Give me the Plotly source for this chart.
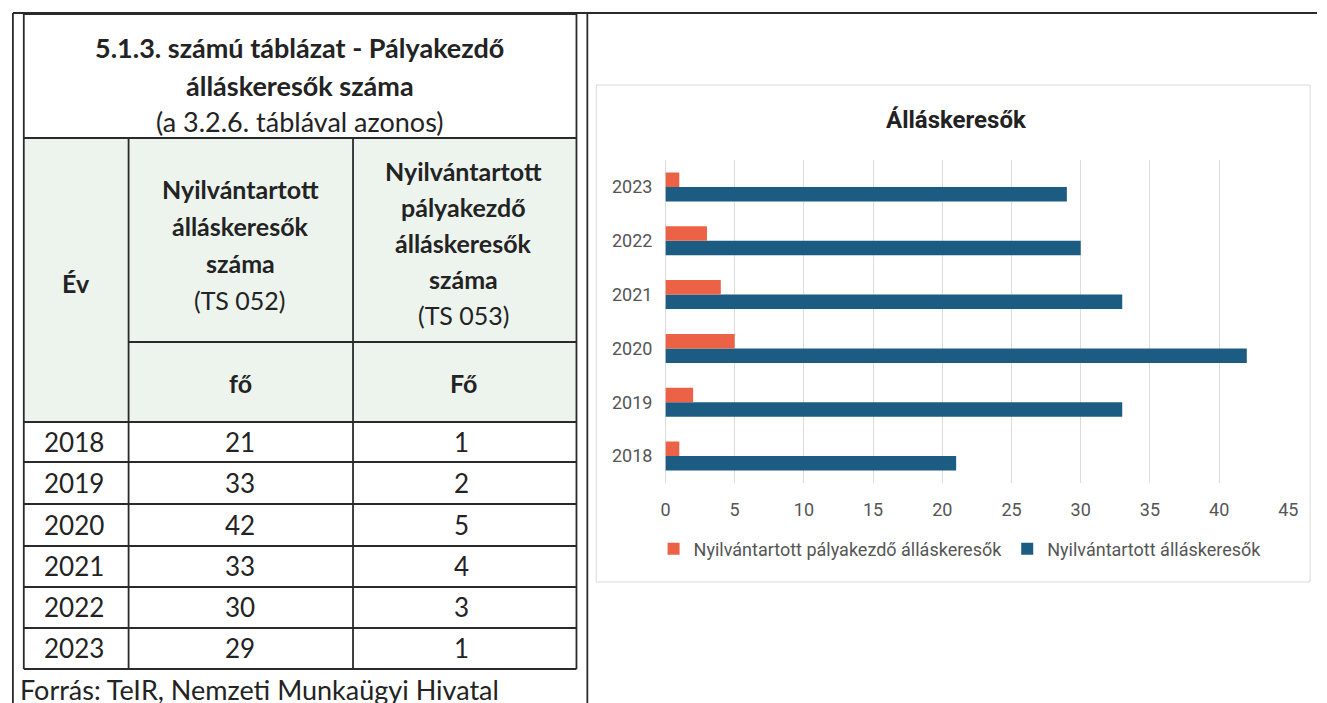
import plotly.graph_objects as go

# ---------------- data ----------------
years = ["2018", "2019", "2020", "2021", "2022", "2023"]
registered = [21, 33, 42, 33, 30, 29]          # Nyilvántartott álláskeresők (TS 052)
career_starters = [1, 2, 5, 4, 3, 1]           # Nyilvántartott pályakezdő álláskeresők (TS 053)
x_ticks = [0, 5, 10, 15, 20, 25, 30, 35, 40, 45]

table_title = ["5.1.3. számú táblázat - Pályakezdő", "álláskeresők száma"]
table_subtitle = "(a 3.2.6. táblával azonos)"
col1_head = ["Nyilvántartott", "álláskeresők", "száma"]
col1_code = "(TS 052)"
col2_head = ["Nyilvántartott", "pályakezdő", "álláskeresők", "száma"]
col2_code = "(TS 053)"
units = ["fő", "Fő"]
source = "Forrás: TeIR, Nemzeti Munkaügyi Hivatal"
chart_title = "Álláskeresők"
series_names = ["Nyilvántartott pályakezdő álláskeresők", "Nyilvántartott álláskeresők"]

# ---------------- geometry helpers ----------------
W, H = 1327, 703
def px(x):
    return x / W
def py(y):
    return 1 - y / H

ORANGE = "#EC6247"
BLUE = "#1C5C82"
INK = "#232323"
TFONT = "Lato"
CFONT = "Roboto"

fig = go.Figure()
fig.add_trace(go.Bar(y=years, x=registered, orientation="h", name=series_names[1],
                     marker=dict(color=BLUE, line=dict(width=0)), legendrank=2))
fig.add_trace(go.Bar(y=years, x=career_starters, orientation="h", name=series_names[0],
                     marker=dict(color=ORANGE, line=dict(width=0)), legendrank=1))

shapes = []
def line(x0, y0, x1, y1, w=1.8, c="#2a2a2a"):
    shapes.append(dict(type="line", xref="paper", yref="paper",
                       x0=px(x0), y0=py(y0), x1=px(x1), y1=py(y1),
                       line=dict(color=c, width=w), layer="above"))

# table header background (pale green tint)
shapes.append(dict(type="rect", xref="paper", yref="paper", x0=px(19), x1=px(578),
                   y0=py(422), y1=py(138), fillcolor="#EDF4EE", line=dict(width=0), layer="below"))
# chart frame
shapes.append(dict(type="rect", xref="paper", yref="paper", x0=px(598), x1=px(1320),
                   y0=py(582), y1=py(85), fillcolor="rgba(0,0,0,0)",
                   line=dict(color="#DADADA", width=1), layer="below"))

# outer frame lines
line(8, 13, 1327, 13, 2)
line(8, 13, 8, 703)
line(589, 13, 589, 703)
# table
line(19, 14, 578, 14)
line(19, 14, 19, 669)
line(578, 14, 578, 669)
line(19, 138, 578, 138)
line(125, 342, 578, 342)
for yy in [422, 462, 504, 546, 587, 628, 669]:
    line(19, yy, 578, yy)
line(125, 138, 125, 669)
line(352, 138, 352, 669)

ann = []
def text(x, y, s, size=24, bold=False, anchor="center", color=INK, family=TFONT):
    ann.append(dict(x=px(x), y=py(y), xref="paper", yref="paper", text=s, showarrow=False,
                    xanchor=anchor, yanchor="middle",
                    font=dict(family=family, size=size, color=color,
                              weight="bold" if bold else "normal")))

text(298, 47, table_title[0], 27, True)
text(298, 85, table_title[1], 27, True)
text(298, 122, table_subtitle, 27)
text(72, 283, "Év", 25, True)
for i, s in enumerate(col1_head):
    text(238, 189 + i * 37, s, 25, True)
text(238, 300, col1_code, 25)
for i, s in enumerate(col2_head):
    text(464, 171 + i * 36, s, 25, True)
text(464, 315, col2_code, 25)
text(238, 383, units[0], 25, True)
text(464, 383, units[1], 25, True)
row_c = [442, 483, 525, 566, 607, 648]
for i in range(len(years)):
    text(70, row_c[i], years[i], 26)
    text(238, row_c[i], str(registered[i]), 26)
    text(462, row_c[i], str(career_starters[i]), 26)
text(13, 689, source, 27, anchor="left")

text(962, 120, chart_title, 24, True, color="#222222", family=CFONT)

fig.update_layout(
    width=W, height=H, autosize=False,
    margin=dict(l=0, r=0, t=0, b=0),
    paper_bgcolor="white", plot_bgcolor="white",
    barmode="group", bargap=0.46, bargroupgap=0.0,
    shapes=shapes, annotations=ann,
    showlegend=True,
    legend=dict(orientation="h", x=px(966), y=py(549), xanchor="center", yanchor="middle",
                font=dict(family=CFONT, size=18, color="#555555"),
                bgcolor="rgba(0,0,0,0)", itemwidth=30),
    xaxis=dict(domain=[px(668), px(1298)], range=[0, 45], tickvals=x_ticks,
               showgrid=True, gridcolor="#DCDCDC", gridwidth=1,
               zeroline=True, zerolinecolor="#DCDCDC", zerolinewidth=1,
               showline=False, ticks="", ticklabelstandoff=14,
               tickfont=dict(family=CFONT, size=18, color="#555555"), fixedrange=True),
    yaxis=dict(domain=[py(483), py(160)], type="category", categoryorder="array",
               categoryarray=years, showgrid=False, zeroline=False, showline=False,
               ticks="", ticklabelstandoff=12,
               tickfont=dict(family=CFONT, size=18, color="#555555"), fixedrange=True),
)

fig.write_html("out.html", config={"displayModeBar": False},
               post_script="document.body.style.margin='0';document.body.style.overflow='hidden';")
